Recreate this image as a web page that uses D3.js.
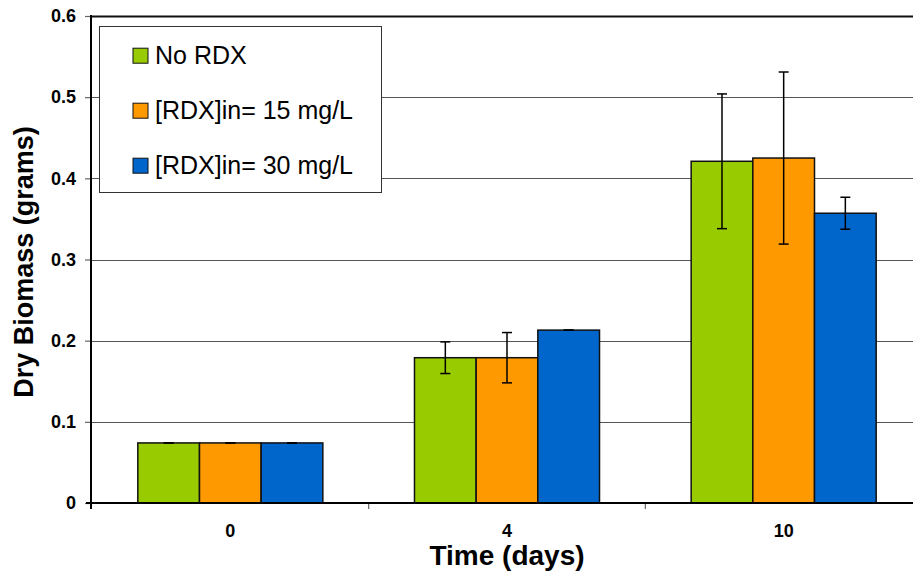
<!DOCTYPE html>
<html><head><meta charset="utf-8">
<script src="https://cdn.jsdelivr.net/npm/d3@7/dist/d3.min.js"></script>
<style>body{margin:0;background:#fff}svg{display:block}</style>
</head><body>
<svg id="chart" width="913" height="574"></svg>
<script>
const categories = ["0", "4", "10"];
const seriesNames = ["No RDX", "[RDX]in= 15 mg/L", "[RDX]in= 30 mg/L"];
const seriesColors = ["#99CC00", "#FF9900", "#0066CC"];
const noRdx = [0.074, 0.179, 0.421];
const rdx15 = [0.074, 0.179, 0.425];
const rdx30 = [0.074, 0.213, 0.357];
const noRdxErr = [0, 0.0195, 0.083];
const rdx15Err = [0, 0.031, 0.106];
const rdx30Err = [0, 0, 0.0197];
const yTicks = [0, 0.1, 0.2, 0.3, 0.4, 0.5, 0.6];
const yTickLabels = ["0", "0.1", "0.2", "0.3", "0.4", "0.5", "0.6"];

const values = [noRdx, rdx15, rdx30];
const errs = [noRdxErr, rdx15Err, rdx30Err];

const svg = d3.select("#chart");
const L = 91, R = 921, T = 16, B = 503;
const font = "Arial, 'Liberation Sans', sans-serif";

const x0 = d3.scaleBand().domain(categories).range([L + 1, R + 1]).padding(0);
const x1 = d3.scaleBand().domain(d3.range(3)).range([0, x0.bandwidth()]).paddingInner(0).paddingOuter(0.743);
const y = d3.scaleLinear().domain([0, 0.6]).range([B, T]);

// gridlines
svg.append("g").selectAll("line").data(yTicks.slice(1)).join("line")
  .attr("x1", L).attr("x2", 913)
  .attr("y1", d => Math.round(y(d)) + 0.5).attr("y2", d => Math.round(y(d)) + 0.5)
  .attr("stroke", (d, i) => d === 0.6 ? "#111" : "#555")
  .attr("stroke-width", d => d === 0.6 ? 2 : 1);

// y axis
const yAxis = d3.axisLeft(y).tickValues(yTicks).tickFormat((d, i) => yTickLabels[i]).tickSize(6).tickPadding(9);
const ga = svg.append("g").attr("transform", `translate(${L},0)`).call(yAxis);
ga.select(".domain").remove();
ga.selectAll(".tick line").attr("stroke", "#666").attr("stroke-width", 1.2);
ga.selectAll("text").attr("font-family", font).attr("font-weight", "bold").attr("font-size", 18).attr("fill", "#000");

// x axis ticks (between categories)
const xAxis = d3.axisBottom(x0).tickSize(0).tickPadding(21);
const gx = svg.append("g").attr("transform", `translate(0,${B})`).call(xAxis);
gx.select(".domain").remove();
gx.selectAll("text").attr("font-family", font).attr("font-weight", "bold").attr("font-size", 18).attr("fill", "#000");
svg.append("g").selectAll("line").data(categories.slice(1)).join("line")
  .attr("x1", d => x0(d)).attr("x2", d => x0(d))
  .attr("y1", B).attr("y2", B + 6).attr("stroke", "#666").attr("stroke-width", 1.2);

// bars
const groups = svg.append("g").selectAll("g").data(categories).join("g")
  .attr("transform", d => `translate(${x0(d)},0)`);
groups.selectAll("rect").data((c, ci) => values.map((s, si) => ({si, v: s[ci], e: errs[si][ci]}))).join("rect")
  .attr("x", d => x1(d.si)).attr("width", x1.bandwidth())
  .attr("y", d => y(d.v)).attr("height", d => B - y(d.v))
  .attr("fill", d => seriesColors[d.si]).attr("stroke", "#111").attr("stroke-width", 1.5);

// error bars
const eb = groups.selectAll("g.eb").data((c, ci) => values.map((s, si) => ({si, v: s[ci], e: errs[si][ci]}))).join("g").attr("class", "eb");
eb.append("line")
  .attr("x1", d => x1(d.si) + x1.bandwidth() / 2).attr("x2", d => x1(d.si) + x1.bandwidth() / 2)
  .attr("y1", d => y(d.v + d.e)).attr("y2", d => y(d.v - d.e))
  .attr("stroke", "#000").attr("stroke-width", 1.5);
eb.selectAll("line.cap").data(d => [d.v + d.e, d.v - d.e].map(t => ({si: d.si, t}))).join("line").attr("class", "cap")
  .attr("x1", d => x1(d.si) + x1.bandwidth() / 2 - 5).attr("x2", d => x1(d.si) + x1.bandwidth() / 2 + 5)
  .attr("y1", d => y(d.t)).attr("y2", d => y(d.t))
  .attr("stroke", "#000").attr("stroke-width", 1.5);

// axis lines
svg.append("line").attr("x1", L).attr("x2", L).attr("y1", T - 1).attr("y2", B + 6).attr("stroke", "#000").attr("stroke-width", 2);
svg.append("line").attr("x1", L - 5).attr("x2", 913).attr("y1", B).attr("y2", B).attr("stroke", "#000").attr("stroke-width", 2);

// legend
const lg = svg.append("g");
lg.append("rect").attr("x", 99.5).attr("y", 26.5).attr("width", 282).attr("height", 166)
  .attr("fill", "#fff").attr("stroke", "#333").attr("stroke-width", 1);
const li = lg.selectAll("g.li").data(seriesNames).join("g").attr("class", "li")
  .attr("transform", (d, i) => `translate(133,${55.7 + i * 55})`);
li.append("rect").attr("x", 0).attr("y", -7.5).attr("width", 15).attr("height", 15)
  .attr("fill", (d, i) => seriesColors[i]).attr("stroke", "#111").attr("stroke-width", 1);
li.append("text").attr("x", 22).attr("y", 8.5).text(d => d)
  .attr("font-family", font).attr("font-size", 25).attr("fill", "#000");

// titles
svg.append("text").attr("x", 507).attr("y", 565).attr("text-anchor", "middle")
  .attr("font-family", font).attr("font-weight", "bold").attr("font-size", 28).text("Time (days)");
svg.append("text").attr("transform", "translate(33,262) rotate(-90)").attr("text-anchor", "middle")
  .attr("font-family", font).attr("font-weight", "bold").attr("font-size", 27).text("Dry Biomass (grams)");
</script>
</body></html>
